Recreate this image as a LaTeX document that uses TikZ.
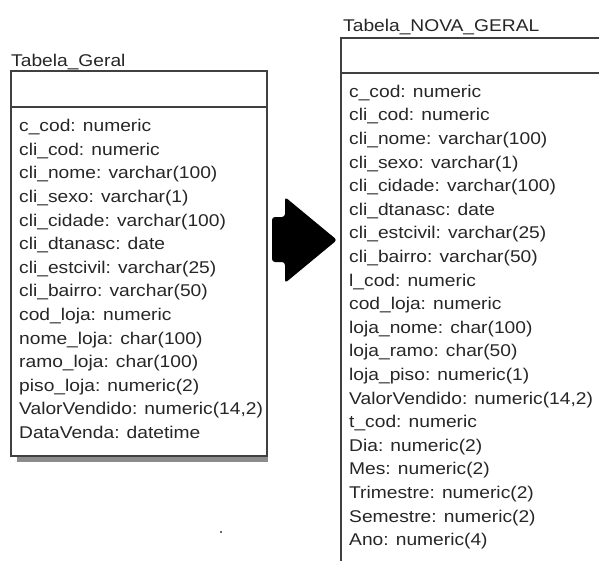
\documentclass[tikz,border=0pt]{standalone}
\usepackage{fontspec}
\setmainfont{Liberation Sans}[FakeStretch=1.13]
\usetikzlibrary{positioning}
\tikzset{
	tabtitle/.style = {anchor = base west, inner sep = 0pt, font = \fontsize{17}{20}\selectfont, text = black!85},
	field/.style = {anchor = base west, inner sep = 0pt, font = \fontsize{17}{20}\selectfont, text = black!85},
	frame/.style = {draw = black!75, line width = 1.5pt}
}

\begin{document}
\begin{tikzpicture}[x = 1pt, y = -1pt]
		\useasboundingbox (0,0) rectangle (599,560);
		\clip (0,0) rectangle (599,560);
		% Tabela_Geral
		\fill [black!45] (17,456) rectangle (268,462);
		\draw [frame, fill = white] (11,71) rectangle (267,456);
		\draw [frame] (11,107) -- (267,107);
		\node (geral) [tabtitle] at (11,66) {Tabela\_Geral};
		\foreach \txt [count = \i] in {c\_cod: numeric, cli\_cod: numeric, cli\_nome: varchar(100), cli\_sexo: varchar(1), cli\_cidade: varchar(100), cli\_dtanasc: date, cli\_estcivil: varchar(25), cli\_bairro: varchar(50), cod\_loja: numeric, nome\_loja: char(100), ramo\_loja: char(100), piso\_loja: numeric(2), {ValorVendido: numeric(14,2)}, DataVenda: datetime}
		\node (g\i) [field] at (19, {131.7 + (\i-1)*23.6}) {\txt};
		% Tabela_NOVA_GERAL
		\draw [frame] (341,38) rectangle (610,580);
		\draw [frame] (341,73) -- (610,73);
		\node (nova) [tabtitle] at (343,31) {Tabela\_NOVA\_GERAL};
		\foreach \txt [count = \i] in {c\_cod: numeric, cli\_cod: numeric, cli\_nome: varchar(100), cli\_sexo: varchar(1), cli\_cidade: varchar(100), cli\_dtanasc: date, cli\_estcivil: varchar(25), cli\_bairro: varchar(50), l\_cod: numeric, cod\_loja: numeric, loja\_nome: char(100), loja\_ramo: char(50), loja\_piso: numeric(1), {ValorVendido: numeric(14,2)}, t\_cod: numeric, Dia: numeric(2), Mes: numeric(2), Trimestre: numeric(2), Semestre: numeric(2), Ano: numeric(4)}
		\node (n\i) [field] at (349, {97.3 + (\i-1)*23.6}) {\txt};
		% block arrow
		\fill [black, rounded corners = 3pt] (272,217) -- (285,217) -- (285,197) -- (337,240) -- (285,283) -- (285,262) -- (272,262) -- cycle;
		\fill [black!60] (220,531) rectangle (222,533);
\end{tikzpicture}
\end{document}
